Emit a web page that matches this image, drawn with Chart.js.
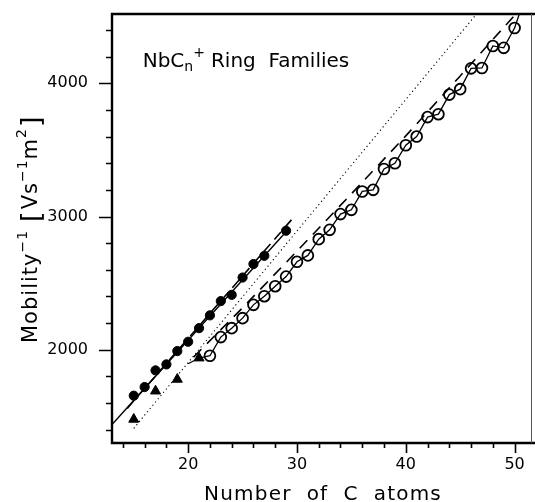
<!DOCTYPE html>
<html><head><meta charset="utf-8">
<script src="https://cdn.jsdelivr.net/npm/chart.js@4/dist/chart.umd.min.js"></script>
<style>html,body{margin:0;padding:0;background:#fff;overflow:hidden}#wrap{width:535px;height:502px;position:relative}</style>
</head><body><div id="wrap"><canvas id="c" width="535" height="502"></canvas></div>
<script>
// ---- data ----
const filledN = [15,16,17,18,19,20,21,22,23,24,25,26,27,29];
const filledV = [1655,1720,1845,1890,1990,2060,2162,2258,2365,2412,2542,2643,2705,2893];
const triN = [15,17,19,21];
const triV = [1478,1690,1778,1938];
const openN = [22,23,24,25,26,27,28,29,30,31,32,33,34,35,36,37,38,39,40,41,42,43,44,45,46,47,48,49,50];
const openV = [1955,2095,2162,2237,2337,2402,2477,2549,2660,2708,2830,2900,3018,3050,3188,3200,3357,3400,3535,3600,3746,3768,3915,3956,4112,4115,4280,4266,4415];
// fitted / model curves
const solidA_N = [13,29];
const solidA_V = [1438,2885];
const dashA_N = [14.4,29.6];
const dashA_V = [1560,2985];
const solidB_startN = [20,21];
const solidB_startV = [1895,1938];
const solidB_endN = [50.6];
const solidB_endV = [4560];
const dashB_N = [20.5,25,30,35,40,45,50];
const dashB_V = [1945,2315,2740,3170,3605,4055,4510];
const dotN = [15,46.4];
const dotV = [1410,4510];
// axes
const xMajor = [20,30,40,50];
const xMinor = [14,16,18,22,24,26,28,32,34,36,38,42,44,46,48];
const yMajor = [2000,3000,4000];
const yMinor = [1400,1600,1800,2200,2400,2600,2800,3200,3400,3600,3800,4200,4400];
const xTitle = 'Number  of  C  atoms';

const pts = (xs, ys) => xs.map((v,i)=>({x:v,y:ys[i]}));
const solidB_N = solidB_startN.concat(openN, solidB_endN);
const solidB_V = solidB_startV.concat(openV, solidB_endV);

const FONT = '"DejaVu Sans", sans-serif';

function drawParts(ctx, parts, x, y, spacing){
  let cx = x;
  for (const p of parts){
    ctx.font = p.size + 'px ' + FONT;
    ctx.letterSpacing = (p.ls!==undefined?p.ls:spacing) + 'px';
    ctx.fillText(p.t, cx + (p.dx||0), y + (p.dy||0));
    cx += ctx.measureText(p.t).width + (p.dx||0) + (p.after||0);
  }
  return cx - x;
}

const deco = {
  id:'deco',
  afterDraw(chart){
    const {ctx, chartArea:a, scales:{x, y}} = chart;
    ctx.save();
    ctx.strokeStyle = '#000'; ctx.fillStyle = '#000';
    // frame
    ctx.lineWidth = 2.4;
    ctx.beginPath();
    ctx.moveTo(535, a.top); ctx.lineTo(a.left, a.top); ctx.lineTo(a.left, a.bottom); ctx.lineTo(535, a.bottom);
    ctx.stroke();
    ctx.lineWidth = 1;
    ctx.strokeStyle = '#555';
    ctx.beginPath(); ctx.moveTo(a.right-0.5, a.top); ctx.lineTo(a.right-0.5, a.bottom); ctx.stroke();
    ctx.strokeStyle = '#000';
    // ticks
    ctx.lineWidth = 1.6;
    ctx.beginPath();
    for (const v of yMajor){ const p = Math.round(y.getPixelForValue(v))+0.5; ctx.moveTo(a.left, p); ctx.lineTo(a.left-13, p); }
    for (const v of yMinor){ const p = Math.round(y.getPixelForValue(v))+0.5; ctx.moveTo(a.left, p); ctx.lineTo(a.left-6, p); }
    for (const v of xMajor){ const p = Math.round(x.getPixelForValue(v))+0.5; ctx.moveTo(p, a.bottom); ctx.lineTo(p, a.bottom+10); }
    for (const v of xMinor){ const p = Math.round(x.getPixelForValue(v))+0.5; ctx.moveTo(p, a.bottom); ctx.lineTo(p, a.bottom+5); }
    ctx.stroke();
    // x title
    ctx.textBaseline = 'alphabetic';
    ctx.font = '20px ' + FONT;
    ctx.letterSpacing = '1.2px';
    const w = ctx.measureText(xTitle).width;
    ctx.fillText(xTitle, 323 - w/2, 500);
    // y title
    ctx.save();
    ctx.translate(37, 343);
    ctx.rotate(-Math.PI/2);
    drawParts(ctx, [
      {t:'Mobility', size:21},
      {t:'\u22121', size:14, dy:-10, after:8},
      {t:'[', size:27, dy:3, after:1},
      {t:'Vs', size:21},
      {t:'\u22121', size:14, dy:-10},
      {t:'m', size:21},
      {t:'2', size:14, dy:-11, after:1},
      {t:']', size:27, dy:3}
    ], 0, 0, 1);
    ctx.restore();
    // annotation
    drawParts(ctx, [
      {t:'NbC', size:20},
      {t:'n', size:14, dy:4},
      {t:'+', size:14, dy:-10, after:6},
      {t:'Ring  Families', size:20}
    ], 142.7, 66.7, 0);
    ctx.restore();
  }
};

new Chart(document.getElementById('c'), {
  type:'scatter',
  data:{ datasets:[
    {data:pts(filledN, filledV), pointStyle:'circle', pointRadius:4.6, backgroundColor:'#000', borderColor:'#000', showLine:false},
    {data:pts(triN, triV), pointStyle:'triangle', pointRadius:5.8, backgroundColor:'#000', borderColor:'#000', showLine:false},
    {data:pts(openN, openV), pointStyle:'circle', pointRadius:5.4, pointBorderWidth:1.8, backgroundColor:'rgba(0,0,0,0)', borderColor:'#000', showLine:false},
    {data:pts(solidA_N, solidA_V), showLine:true, pointRadius:0, borderColor:'#000', borderWidth:1.4},
    {data:pts(dashA_N, dashA_V), showLine:true, pointRadius:0, borderColor:'#000', borderWidth:1.6, borderDash:[10,6]},
    {data:pts(solidB_N, solidB_V), showLine:true, pointRadius:0, borderColor:'#000', borderWidth:1.3},
    {data:pts(dashB_N, dashB_V), showLine:true, pointRadius:0, borderColor:'#000', borderWidth:1.6, borderDash:[11,8]},
    {data:pts(dotN, dotV), showLine:true, pointRadius:0, borderColor:'#000', borderWidth:1.1, borderDash:[1.2,3]}
  ]},
  options:{
    responsive:false, animation:false,
    layout:{autoPadding:false, padding:{left:0, top:14, right:3, bottom:0}},
    plugins:{legend:{display:false}, tooltip:{enabled:false}},
    scales:{
      x:{type:'linear', min:13, max:51.6,
        afterBuildTicks:s=>{ s.ticks = xMajor.map(v=>({value:v})); },
        afterFit:s=>{ s.height = 59; s.paddingLeft = 0; s.paddingRight = 0; },
        grid:{display:false, drawTicks:false}, border:{display:false},
        ticks:{autoSkip:false, maxRotation:0, padding:12, color:'#000', font:{family:'DejaVu Sans', size:16}, callback:v=>String(v)}},
      y:{type:'linear', min:1300, max:4520,
        afterBuildTicks:s=>{ s.ticks = yMajor.map(v=>({value:v})); },
        afterFit:s=>{ s.width = 112; s.paddingTop = 0; s.paddingBottom = 0; },
        grid:{display:false, drawTicks:false}, border:{display:false},
        ticks:{autoSkip:false, padding:24, color:'#000', font:{family:'DejaVu Sans', size:16}, callback:v=>String(v)}}
    }
  },
  plugins:[deco]
});
</script></body></html>
